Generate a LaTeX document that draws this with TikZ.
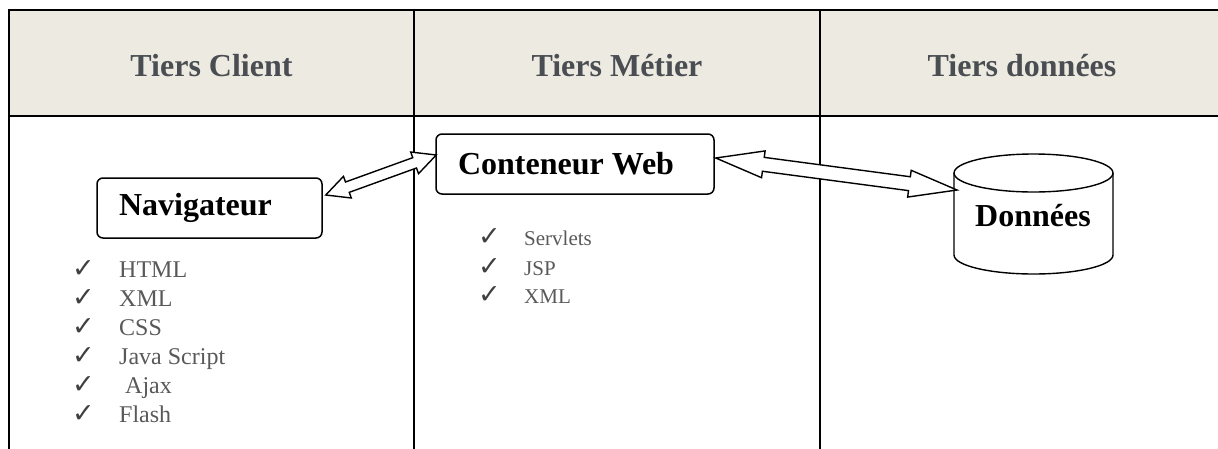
\documentclass[tikz,border=0pt]{standalone}
\usepackage{fontspec}
\setmainfont{Liberation Serif}
\newfontfamily\symfont{DejaVu Sans}
\usetikzlibrary{calc}
\definecolor{hdrfill}{HTML}{EDEBE1}
\definecolor{hdrtext}{HTML}{4A4E53}
\definecolor{listtext}{HTML}{595959}
\definecolor{checkcol}{HTML}{404040}
% #1 name, #2 tip A, #3 tip B, #4 head length, #5 head half width, #6 shaft half width
\newcommand{\dblarrow}[6]{%
  \coordinate (#1-p) at ($(#2)!#4!(#3)$);
  \coordinate (#1-q) at ($(#3)!#4!(#2)$);
  \draw[blockarr] (#2) -- ($(#1-p)!#5!90:(#3)$) -- ($(#1-p)!#6!90:(#3)$)
     -- ($(#1-q)!#6!-90:(#2)$) -- ($(#1-q)!#5!-90:(#2)$) -- (#3)
     -- ($(#1-q)!#5!90:(#2)$) -- ($(#1-q)!#6!90:(#2)$)
     -- ($(#1-p)!#6!-90:(#3)$) -- ($(#1-p)!#5!-90:(#3)$) -- cycle;}
\newcommand{\listline}[5]{% name, checkx, textx, y, text
  \node[chk] (#1c) at (#2,#4) {\symfont ✓};
  \node[li] (#1t) at (#3,#4) {#5};}
\begin{document}
\begin{tikzpicture}[x=1pt,y=-1pt,
  grid/.style={line width=2pt, black},
  tbox/.style={draw, line width=1.5pt, rounded corners=6pt, fill=white,
    font=\fontsize{32}{38}\selectfont\bfseries,
    inner xsep=22pt, inner ysep=4pt, minimum height=60pt},
  hdr/.style={font=\fontsize{32}{38}\selectfont\bfseries, text=hdrtext, anchor=base, inner sep=0pt},
  chk/.style={font=\fontsize{27}{30}\selectfont, text=checkcol, anchor=base west, inner sep=0pt},
  li/.style={text=listtext, anchor=base west, inner sep=0pt},
  blockarr/.style={draw, line width=1.4pt, fill=white, line join=miter},
  cyl/.style={draw, line width=1.4pt, fill=white}]
\useasboundingbox (0,0) rectangle (1218,448);
% table
\fill[hdrfill] (9,10) rectangle (1240,116);
\draw[grid] (1240,10) -- (9,10) -- (9,470);
\draw[grid] (9,116) -- (1240,116);
\draw[grid] (414,10) -- (414,470);
\draw[grid] (820,10) -- (820,470);
% headers
\node[hdr] (h1) at (211.5,76) {Tiers Client};
\node[hdr] (h2) at (617,76) {Tiers Métier};
\node[hdr] (h3) at (1022,76) {Tiers données};
% boxes
\node[tbox] (nav) at (209.5,208) {\makebox[181pt][l]{Navigateur}};
\node[tbox] (cw) at (575,164) {\makebox[234pt][l]{Conteneur Web}};
% cylinder
\path[cyl, draw=none] (954,173) -- (954,255) arc[start angle=180, end angle=360, x radius=79.5pt, y radius=19pt] -- (1113,173) -- cycle;
\draw[line width=1.4pt] (954,173) -- (954,255) arc[start angle=180, end angle=360, x radius=79.5pt, y radius=19pt] -- (1113,173);
\draw[cyl] (1033.5,173) ellipse [x radius=79.5pt, y radius=19pt];
\node[font=\fontsize{32}{38}\selectfont\bfseries, inner sep=0pt] (db) at (1033,216) {Données};
% arrows
\coordinate (n1) at ($(nav.east)+(3,-13)$);
\coordinate (c1) at ($(cw.west)+(1,-9)$);
\coordinate (c2) at ($(cw.east)+(1,-6)$);
\coordinate (d1) at ($(db)+(-76,-26)$);
\dblarrow{aa}{n1}{c1}{23pt}{11.5pt}{5.5pt}
\dblarrow{ab}{c2}{d1}{48pt}{13.5pt}{7pt}
% left list
\begin{scope}[li/.append style={font=\fontsize{24}{29}\selectfont}]
\listline{a}{72}{119}{277}{HTML}
\listline{b}{72}{119}{306}{XML}
\listline{c}{72}{119}{335}{CSS}
\listline{d}{72}{119}{364}{Java Script}
\listline{e}{72}{125}{393}{Ajax}
\listline{f}{72}{119}{422}{Flash}
\end{scope}
% middle list
\begin{scope}[li/.append style={font=\fontsize{21}{25}\selectfont}]
\listline{m}{478}{524}{245}{Servlets}
\listline{n}{478}{524}{275}{JSP}
\listline{o}{478}{524}{303}{XML}
\end{scope}
\end{tikzpicture}
\end{document}
